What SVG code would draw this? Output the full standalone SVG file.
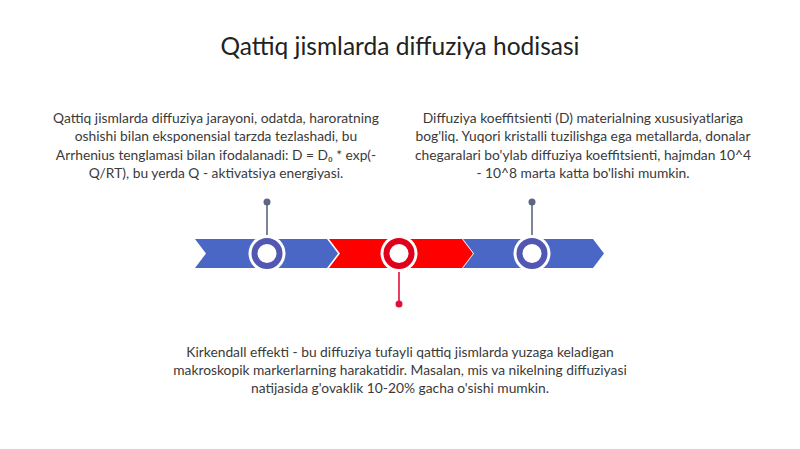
<svg xmlns="http://www.w3.org/2000/svg" width="800" height="449" viewBox="0 0 800 449">
<style>
.t{font-family:Lato,"Liberation Sans",sans-serif;fill:#3a3a3a;font-size:13.8px;text-anchor:middle}
.title{font-family:Lato,"Liberation Sans",sans-serif;fill:#222;font-size:24.5px;text-anchor:middle}
.blue{fill:#4a67c6}
.red{fill:#ff0000}
.halo{fill:#fff}
.ringb{fill:#fff;stroke:#5257b3;stroke-width:6}
.ringr{fill:#fff;stroke:#e0001b;stroke-width:6}
.pinb{stroke:#5e6585;stroke-width:1.6}
.pinr{stroke:#e0103a;stroke-width:1.6}
</style>
<rect width="800" height="449" fill="#fff"/>
<text class="title" x="400" y="55">Qattiq jismlarda diffuziya hodisasi</text>
<g id="connectors">
<line class="pinb" x1="267" y1="202" x2="267" y2="236"/>
<circle cx="267" cy="202" r="3.5" fill="#5e6585"/>
<line class="pinb" x1="532" y1="202" x2="532" y2="236"/>
<circle cx="532" cy="202" r="3.5" fill="#5e6585"/>
<line class="pinr" x1="399" y1="270" x2="399" y2="304"/>
<circle cx="399" cy="304" r="3.5" fill="#e0103a"/>
</g>
<g id="band">
<polygon class="blue" points="195,239 327,239 338,253.5 327,268 195,268 206,253.5"/>
<polygon class="red" points="329,239 462,239 473,253.5 462,268 329,268 340,253.5"/>
<polygon class="blue" points="463,239 593,239 604,253.5 593,268 463,268 474,253.5"/>
</g>
<g id="node1">
<circle class="halo" cx="267" cy="253.5" r="18.5"/>
<circle class="ringb" cx="267" cy="253.5" r="12.5"/>
<text class="t" x="216" y="123">Qattiq jismlarda diffuziya jarayoni, odatda, haroratning</text>
<text class="t" x="216" y="141">oshishi bilan eksponensial tarzda tezlashadi, bu</text>
<text class="t" x="216" y="160">Arrhenius tenglamasi bilan ifodalanadi: D = D₀ * exp(-</text>
<text class="t" x="216" y="178">Q/RT), bu yerda Q - aktivatsiya energiyasi.</text>
</g>
<g id="node2">
<circle class="halo" cx="399" cy="253.5" r="18.5"/>
<circle class="ringr" cx="399" cy="253.5" r="12.5"/>
<text class="t" x="400" y="357">Kirkendall effekti - bu diffuziya tufayli qattiq jismlarda yuzaga keladigan</text>
<text class="t" x="400" y="375">makroskopik markerlarning harakatidir. Masalan, mis va nikelning diffuziyasi</text>
<text class="t" x="400" y="393">natijasida g'ovaklik 10-20% gacha o'sishi mumkin.</text>
</g>
<g id="node3">
<circle class="halo" cx="532" cy="253.5" r="18.5"/>
<circle class="ringb" cx="532" cy="253.5" r="12.5"/>
<text class="t" x="583" y="123">Diffuziya koeffitsienti (D) materialning xususiyatlariga</text>
<text class="t" x="583" y="141">bog'liq. Yuqori kristalli tuzilishga ega metallarda, donalar</text>
<text class="t" x="583" y="160">chegaralari bo'ylab diffuziya koeffitsienti, hajmdan 10^4</text>
<text class="t" x="583" y="178">- 10^8 marta katta bo'lishi mumkin.</text>
</g>
</svg>
